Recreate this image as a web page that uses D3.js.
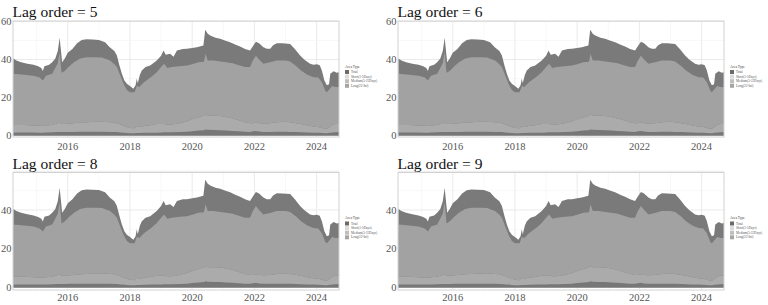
<!DOCTYPE html>
<html><head><meta charset="utf-8">
<script src="https://cdn.jsdelivr.net/npm/d3@7"></script>
<style>body{margin:0;background:#fff}svg{display:block}</style>
</head><body>
<svg id="c" width="768" height="305"></svg>
<script>
const lagOrders = [5, 6, 8, 9];
const tTotal = [2014.25,2014.35,2014.5,2014.7,2014.9,2015.05,2015.15,2015.2,2015.25,2015.4,2015.5,2015.6,2015.68,2015.74,2015.78,2015.82,2015.9,2016.0,2016.15,2016.3,2016.45,2016.6,2016.8,2017.0,2017.2,2017.35,2017.5,2017.58,2017.66,2017.74,2017.82,2017.9,2018.0,2018.11,2018.18,2018.22,2018.25,2018.32,2018.38,2018.5,2018.65,2018.86,2019.0,2019.08,2019.15,2019.29,2019.4,2019.51,2019.7,2019.83,2020.0,2020.15,2020.36,2020.42,2020.5,2020.58,2020.75,2020.9,2021.05,2021.22,2021.4,2021.54,2021.7,2021.86,2021.95,2022.05,2022.15,2022.29,2022.4,2022.51,2022.6,2022.72,2022.9,2023.15,2023.3,2023.47,2023.6,2023.79,2023.9,2024.01,2024.1,2024.17,2024.25,2024.33,2024.4,2024.44,2024.55,2024.65,2024.72];
const total = [40.5,39.5,38.6,37.8,37.2,36.4,35.5,34.0,36.5,37.2,38.6,40.5,44.5,51.5,45,38.6,40.4,43.5,45.5,48.5,50.2,50.6,50.5,50.3,49.1,46.5,44.5,42.1,37,32.5,29,27.2,26,24.6,26.5,30,27.5,32,34.2,36,36.8,39.5,42,44.7,42.5,43,41.5,44.7,45.5,45.6,46,46.5,47.4,55.6,53.5,52.6,51.5,50.9,50,49.1,47.8,46.8,45.5,44.7,47,49.3,48.5,46.5,45.6,45.6,47.5,48.6,48.5,48.2,45.5,42.1,40,37.7,37.3,37.5,37,34.2,29,26.5,27,32.5,33.8,33,33.3];
const tBand = [2014.25,2014.6,2014.9,2015.1,2015.2,2015.3,2015.5,2015.68,2015.74,2015.8,2015.9,2016.05,2016.2,2016.4,2016.6,2016.9,2017.1,2017.36,2017.5,2017.58,2017.7,2017.8,2017.9,2018.0,2018.15,2018.22,2018.3,2018.45,2018.7,2018.86,2019.0,2019.1,2019.2,2019.35,2019.6,2019.83,2020.0,2020.2,2020.38,2020.43,2020.5,2020.7,2020.9,2021.1,2021.3,2021.5,2021.7,2021.86,2021.95,2022.05,2022.15,2022.29,2022.5,2022.72,2023.0,2023.15,2023.35,2023.5,2023.7,2023.9,2024.05,2024.17,2024.28,2024.33,2024.42,2024.5,2024.6,2024.72];
const shortV = [1.6,1.6,1.6,1.5,1.5,1.6,1.7,1.8,1.8,1.8,1.8,1.9,1.9,2.0,2.0,2.0,2.0,1.9,1.8,1.8,1.6,1.5,1.3,1.2,1.2,1.3,1.3,1.4,1.5,1.5,1.6,1.7,1.7,1.7,1.8,2.0,2.3,2.6,2.8,3.2,3.0,2.9,2.8,2.6,2.4,2.2,2.0,1.9,2.2,2.4,2.1,1.9,1.9,2.0,2.0,1.9,1.8,1.7,1.6,1.5,1.4,1.3,1.2,1.2,1.4,1.6,1.7,1.8];
const mediumV = [3.9,3.9,3.7,3.7,3.5,3.7,3.8,4.7,5.2,4.2,4.2,4.4,4.6,4.8,5.0,5.2,5.3,5.1,5.0,4.7,4.2,3.5,3.2,2.8,2.6,3.7,3.2,3.6,4.0,4.5,4.4,4.3,4.1,4.1,4.7,5.5,6.2,6.9,7.7,7.8,7.5,7.6,7.5,7.2,6.6,5.8,5.0,4.6,4.3,4.4,4.4,4.4,4.6,5.0,5.3,5.1,4.7,4.3,3.7,3.3,3.1,2.7,2.3,2.3,3.1,3.9,4.3,4.2];
const longV = [27.0,26.5,26.2,25.3,23.9,26.2,27.0,31.5,37.0,27.0,28.0,30.2,32.1,33.7,34.2,34.0,33.7,32.5,30.7,29.5,25.2,22.0,19.5,18.8,19.0,21.0,21.0,23.0,25.5,27.3,30.0,31.7,29.7,30.2,30.0,29.3,29.0,29.1,28.3,32.0,29.0,29.0,28.7,28.8,29.0,29.0,29.0,29.5,33.0,35.2,33.5,31.4,32.0,32.5,32.2,32.0,30.0,28.2,26.7,25.9,26.0,24.0,20.0,19.3,20.0,20.5,19.5,19.4];
const yearTicks = [2016, 2018, 2020, 2022, 2024];
const minorYears = [2015, 2017, 2019, 2021, 2023];
const yTicks = [0, 20, 40, 60];
const legendTitle = "Area Type";
const legendLabels = ["Total", "Short(1-5Days)", "Medium(5-22Days)", "Long(22-Inf)"];

const legendColors = ["#6b6b6b", "#dadada", "#bfbfbf", "#a6a6a6"];
const fillTotal = "#7a7a7a";
const bandColors = {short: "#777777", medium: "#ababab", long: "#a2a2a2"};
const font = "'Liberation Serif','Times New Roman',serif";

const svg = d3.select("#c");
const cols = [13, 398];
const rows = [{y0: 21, y1: 137, dom: [-0.79, 60.26], titleY: 16.7, labY: 149.5},
              {y0: 172.5, y1: 290, dom: [-1.29, 59.35], titleY: 168.5, labY: 301}];
const W = 326;

const totalData = tTotal.map((t, i) => ({t, v: total[i]}));
const bandRows = tBand.map((t, i) => ({t, short: shortV[i], medium: mediumV[i], long: longV[i]}));
const stacked = d3.stack().keys(["short", "medium", "long"])(bandRows);

lagOrders.forEach((lag, k) => {
  const r = rows[Math.floor(k / 2)];
  const x0 = cols[k % 2];
  const x = d3.scaleLinear().domain([2014.24, 2024.72]).range([x0, x0 + W]);
  const y = d3.scaleLinear().domain(r.dom).range([r.y1, r.y0]);
  const g = svg.append("g");

  const clipId = "clip" + k;
  svg.append("clipPath").attr("id", clipId).append("rect")
    .attr("x", x0).attr("y", r.y0).attr("width", W).attr("height", r.y1 - r.y0);

  // grid
  const grid = g.append("g");
  grid.selectAll(".mx").data(minorYears).join("line")
    .attr("x1", d => x(d)).attr("x2", d => x(d)).attr("y1", r.y0).attr("y2", r.y1)
    .attr("stroke", "#f3f3f3").attr("stroke-width", 0.6);
  grid.selectAll(".Mx").data(yearTicks).join("line")
    .attr("x1", d => x(d)).attr("x2", d => x(d)).attr("y1", r.y0).attr("y2", r.y1)
    .attr("stroke", "#e8e8e8").attr("stroke-width", 0.9);
  grid.selectAll(".my").data([10, 30, 50]).join("line")
    .attr("x1", x0).attr("x2", x0 + W).attr("y1", d => y(d)).attr("y2", d => y(d))
    .attr("stroke", "#f3f3f3").attr("stroke-width", 0.6);
  grid.selectAll(".My").data(yTicks).join("line")
    .attr("x1", x0).attr("x2", x0 + W).attr("y1", d => y(d)).attr("y2", d => y(d))
    .attr("stroke", "#e8e8e8").attr("stroke-width", 0.9);

  const plot = g.append("g").attr("clip-path", `url(#${clipId})`);
  plot.append("path").datum(totalData)
    .attr("d", d3.area().x(d => x(d.t)).y0(y(0)).y1(d => y(d.v)))
    .attr("fill", fillTotal);
  plot.selectAll(".band").data(stacked).join("path")
    .attr("d", d3.area().x(d => x(d.data.t)).y0(d => y(d[0])).y1(d => y(d[1])))
    .attr("fill", d => bandColors[d.key]);

  g.append("rect").attr("x", x0).attr("y", r.y0).attr("width", W).attr("height", r.y1 - r.y0)
    .attr("fill", "none").attr("stroke", "#d2d2d2").attr("stroke-width", 1);

  // axes labels
  const ylabs = yTicks.filter(v => v <= r.dom[1]);
  g.selectAll(".yl").data(ylabs).join("text")
    .attr("x", x0 - 1.5).attr("y", d => y(d)).attr("dy", "0.35em")
    .attr("text-anchor", "end").attr("font-family", font).attr("font-size", 10.5)
    .attr("fill", "#555").text(d => d);
  g.selectAll(".xl").data(yearTicks).join("text")
    .attr("x", d => x(d)).attr("y", r.labY)
    .attr("text-anchor", "middle").attr("font-family", font).attr("font-size", 10.5)
    .attr("fill", "#555").text(d => d);

  // title
  g.append("text").attr("x", x0 - 0.5).attr("y", r.titleY)
    .attr("font-family", font).attr("font-size", 15.5).attr("fill", "#111")
    .text("Lag order = " + lag);

  // legend
  const lx = x0 + W + 6, ly = r.y0 + 46.5;
  g.append("text").attr("x", lx).attr("y", ly).attr("font-family", font)
    .attr("font-size", 3.6).attr("fill", "#444").text(legendTitle);
  legendLabels.forEach((lab, i) => {
    g.append("rect").attr("x", lx).attr("y", ly + 2.5 + i * 4.6).attr("width", 4).attr("height", 4)
      .attr("fill", legendColors[i]);
    g.append("text").attr("x", lx + 6).attr("y", ly + 5.6 + i * 4.6).attr("font-family", font)
      .attr("font-size", 3.3).attr("fill", "#555").text(lab);
  });
});
</script>
</body></html>
